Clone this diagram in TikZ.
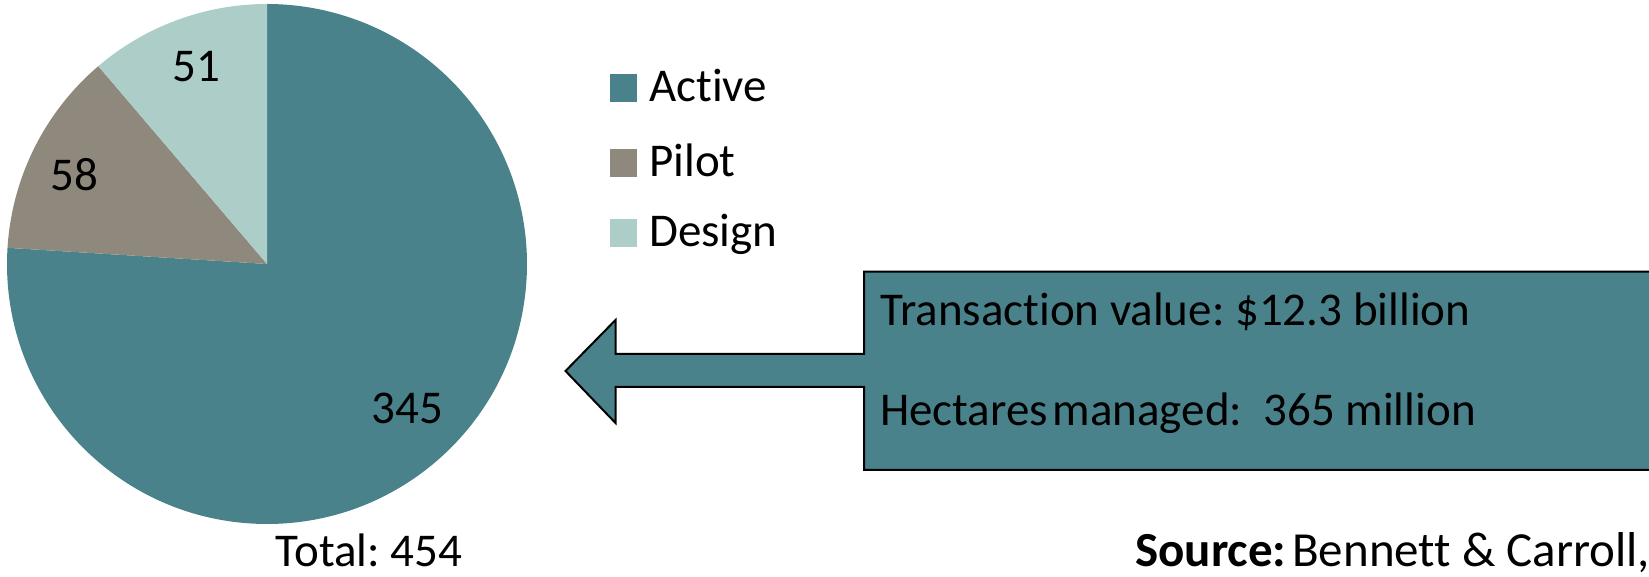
\documentclass[tikz,border=0pt]{standalone}
\usepackage{fontspec}
\setmainfont[Ligatures=NoCommon]{Carlito}
\definecolor{active}{HTML}{4A828C}
\definecolor{pilot}{HTML}{8F897D}
\definecolor{design}{HTML}{ADCEC8}
\frenchspacing
\begin{document}
\begin{tikzpicture}[x=1pt,y=1pt,
  lbl/.style={font=\fontsize{47}{56}\selectfont, inner sep=0pt, text=black},
  keybox/.style={minimum width=27pt, minimum height=28pt, inner sep=0pt, anchor=south west}]
\useasboundingbox (0,0) rectangle (1649,577);
\clip (0,0) rectangle (1649,577);
% pie
\coordinate (c) at (267,313);
\fill[active] (c) -- ++(176.43:260pt) arc[start angle=176.43, end angle=450, radius=260pt] -- cycle;
\fill[pilot] (c) -- ++(130.44:260pt) arc[start angle=130.44, end angle=176.43, radius=260pt] -- cycle;
\fill[design] (c) -- ++(90:260pt) arc[start angle=90, end angle=130.44, radius=260pt] -- cycle;
\node[lbl, anchor=base] (l51) at (196,495) {51};
\node[lbl, anchor=base] (l58) at (74,386) {58};
\node[lbl, anchor=base] (l345) at (407.5,153) {345};
\node[lbl, anchor=base] (total) at (369,10) {Total: 454};
% legend
\node[keybox, fill=active] (ka) at (610,475) {};
\node[keybox, fill=pilot] (kp) at (610,400) {};
\node[keybox, fill=design] (kd) at (610,330) {};
\node[lbl, anchor=base west] (ta) at (649,475) {Active};
\node[lbl, anchor=base west] (tp) at (649,400) {Pilot};
\node[lbl, anchor=base west] (td) at (649,330) {Design};
% callout
\draw[fill=active, line width=2pt, line join=miter] (1660,305.3) -- (864,305.3) -- (864,223) -- (615.5,223) -- (615.5,257) -- (565.5,206) -- (615.5,154) -- (615.5,190) -- (864,190) -- (864,107) -- (1660,107) -- cycle;
\node[lbl, anchor=base west] (tv) at (880,251) {Transaction value: \$12.3 billion};
\node[lbl, anchor=base west] (hm) at (880,151) {Hectares\hspace{0.1em}managed:\hspace{0.45em}365 million};
% source
\node[lbl, anchor=base west, font=\fontsize{49}{58}\selectfont] (src) at (1135,10) {\textbf{Source:}\hspace{0.12em}Bennett \& Carroll,};
\end{tikzpicture}
\end{document}
